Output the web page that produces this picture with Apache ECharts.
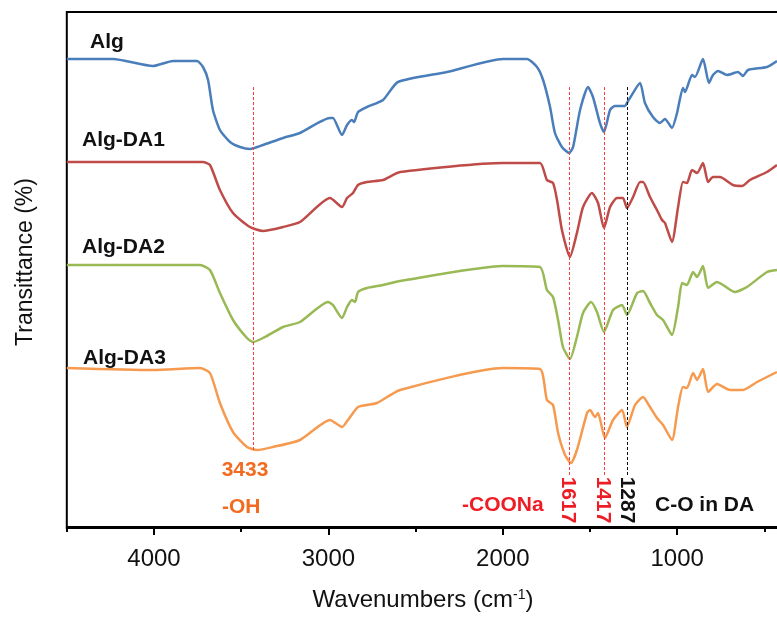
<!DOCTYPE html>
<html><head><meta charset="utf-8">
<script src="https://cdn.jsdelivr.net/npm/echarts@6/dist/echarts.min.js"></script>
<style>html,body{margin:0;padding:0;background:#fff}#c{width:777px;height:619px}</style>
</head><body><div id="c"></div>
<script>
// Wavenumbers (cm-1) and relative transmittance (offset, arbitrary units)
const algX = [4500,4235,4006,3891,3753,3719,3690,3662,3622,3564,3507,3450,3375,3260,3163,2991,2974,2922,2893,2865,2853,2830,2779,2687,2601,2320,1999,1861,1804,1769,1729,1701,1661,1620,1597,1557,1511,1483,1443,1420,1385,1357,1299,1288,1271,1213,1185,1139,1099,1070,1030,1001,967,955,915,898,852,818,795,766,714,651,623,594,485,428];
const algY = [468,468,461,466,466,460,447,417,397,385,380,378,382,389,394,409,409,392,402,407,405,415,420,427,445,455,468,468,460,447,420,394,380,374,380,417,440,430,404,395,417,421,421,424,429,444,424,410,404,408,399,414,439,435,452,450,468,444,452,456,452,455,451,457,460,466];

const da1X = [4500,3719,3679,3622,3547,3450,3375,3260,3163,2991,2922,2893,2859,2830,2779,2687,2589,1999,1787,1747,1712,1689,1661,1615,1575,1540,1489,1454,1420,1385,1345,1311,1288,1253,1213,1196,1156,1116,1087,1070,1030,995,967,944,915,886,852,823,795,755,680,628,583,485,428];
const da1Y = [365,365,362,337,314,300,296,300,305,329,320,329,334,342,345,347,355,364,364,347,344,327,297,270,294,320,334,324,299,320,329,329,319,330,345,345,330,317,307,304,285,320,345,344,357,354,364,345,350,350,342,341,347,355,362];

const da2X = [4500,3736,3679,3622,3547,3467,3432,3375,3260,3163,3002,2974,2922,2893,2865,2847,2830,2779,2687,2589,1999,1787,1747,1712,1683,1655,1615,1575,1540,1494,1460,1420,1368,1316,1288,1230,1196,1156,1116,1081,1030,995,972,944,909,886,852,823,772,737,669,600,485,428];
const da2Y = [262,262,257,234,207,189,185,189,200,205,225,222,209,220,227,225,235,239,242,246,261,260,237,230,207,180,168,190,214,225,215,195,217,222,212,234,236,224,212,207,192,220,244,242,255,250,261,239,245,242,235,240,255,257];

const da3X = [4500,4006,3736,3679,3622,3547,3467,3409,3318,3163,2991,2922,2888,2859,2830,2779,2721,2589,1999,1787,1747,1712,1683,1643,1609,1575,1517,1500,1471,1454,1414,1368,1316,1288,1242,1196,1156,1116,1081,1030,995,967,944,909,886,852,823,772,697,623,542,428];
const da3Y = [159,157,159,154,124,95,80,77,80,87,107,100,107,114,120,122,124,137,159,158,127,122,94,72,64,77,114,117,110,114,89,107,117,100,122,130,120,109,102,87,120,140,139,154,147,158,135,143,137,137,145,155];

const seriesNames = ['Alg','Alg-DA1','Alg-DA2','Alg-DA3'];
const majorTicks = [1000,2000,3000,4000];
const minorTicks = [500,1500,2500,3500,4500];
const peakLines = [3433,1617,1417,1287];

const zip = (xs, ys) => xs.map((x, i) => [x, ys[i]]);
const colors = ['#4a7ebb','#be4b48','#98b954','#f59a4e'];
const FONT = '"Liberation Sans", Arial, sans-serif';

const chart = echarts.init(document.getElementById('c'), null, {renderer:'canvas'});

const lineColors = ['#ff3b3b','#ff3b3b','#ff3b3b','#111'];
const markData = peakLines.map((wn, i) => [
  {coord:[wn, 440], lineStyle:{color: lineColors[i], type:[3,2], width:1}},
  {coord:[wn, i === 0 ? 77 : 50]}
]);

const xBase = {
  type:'value', min:0, max:4500, inverse:true, gridIndex:0, position:'bottom',
  splitLine:{show:false}
};

chart.setOption({
  animation:false,
  backgroundColor:'#fff',
  grid:{left:66.8, top:12, width:784.8, height:516, show:true, borderColor:'#000', borderWidth:2,
        containLabel:false, outerBoundsMode:'none'},
  xAxis:[
    Object.assign({}, xBase, {
      axisLine:{show:true, lineStyle:{color:'#000', width:2}},
      axisTick:{show:true, inside:false, length:8, lineStyle:{color:'#000', width:2}, customValues: majorTicks},
      axisLabel:{show:true, customValues: majorTicks, formatter: v => String(v), fontSize:24, fontFamily:FONT, color:'#111', margin:19}
    }),
    Object.assign({}, xBase, {
      axisLine:{show:false},
      axisTick:{show:true, inside:false, length:4, lineStyle:{color:'#000', width:2}, customValues: minorTicks},
      axisLabel:{show:false}
    })
  ],
  yAxis:{
    type:'value', min:-1, max:515,
    axisLine:{show:false}, axisTick:{show:false}, axisLabel:{show:false}, splitLine:{show:false},
    name:'Transittance (%)', nameLocation:'middle', nameGap:30, nameRotate:90,
    nameTextStyle:{fontSize:23, fontFamily:FONT, color:'#111', padding:[0,0,0,16]}
  },
  series:[
    {name:seriesNames[0], type:'line', data:zip(algX, algY), showSymbol:false, smooth:0.2, lineStyle:{color:colors[0], width:2.5}, itemStyle:{color:colors[0]}},
    {name:seriesNames[1], type:'line', data:zip(da1X, da1Y), showSymbol:false, smooth:0.2, lineStyle:{color:colors[1], width:2.5}, itemStyle:{color:colors[1]}},
    {name:seriesNames[2], type:'line', data:zip(da2X, da2Y), showSymbol:false, smooth:0.2, lineStyle:{color:colors[2], width:2.5}, itemStyle:{color:colors[2]}},
    {name:seriesNames[3], type:'line', data:zip(da3X, da3Y), showSymbol:false, smooth:0.2, lineStyle:{color:colors[3], width:2.5}, itemStyle:{color:colors[3]},
      markLine:{silent:true, symbol:['none','none'], label:{show:false}, data:markData}}
  ],
  graphic:[
    {type:'text', x:90, y:42, style:{text:seriesNames[0], font:'bold 21px '+FONT, fill:'#111', textAlign:'left', textVerticalAlign:'middle'}},
    {type:'text', x:82, y:140, style:{text:seriesNames[1], font:'bold 21px '+FONT, fill:'#111', textAlign:'left', textVerticalAlign:'middle'}},
    {type:'text', x:82, y:247, style:{text:seriesNames[2], font:'bold 21px '+FONT, fill:'#111', textAlign:'left', textVerticalAlign:'middle'}},
    {type:'text', x:83, y:358, style:{text:seriesNames[3], font:'bold 21px '+FONT, fill:'#111', textAlign:'left', textVerticalAlign:'middle'}},
    {type:'text', x:245, y:470, style:{text:String(peakLines[0]), font:'bold 21px '+FONT, fill:'#f26b21', textAlign:'center', textVerticalAlign:'middle'}},
    {type:'text', x:222, y:507, style:{text:'-OH', font:'bold 21px '+FONT, fill:'#f26b21', textAlign:'left', textVerticalAlign:'middle'}},
    {type:'text', x:462, y:505, style:{text:'-COONa', font:'bold 21px '+FONT, fill:'#ee1c25', textAlign:'left', textVerticalAlign:'middle'}},
    {type:'text', x:568, y:500, rotation:-Math.PI/2, style:{text:String(peakLines[1]), font:'bold 21px '+FONT, fill:'#ee1c25', textAlign:'center', textVerticalAlign:'middle'}},
    {type:'text', x:603, y:500, rotation:-Math.PI/2, style:{text:String(peakLines[2]), font:'bold 21px '+FONT, fill:'#ee1c25', textAlign:'center', textVerticalAlign:'middle'}},
    {type:'text', x:627, y:500, rotation:-Math.PI/2, style:{text:String(peakLines[3]), font:'bold 21px '+FONT, fill:'#111', textAlign:'center', textVerticalAlign:'middle'}},
    {type:'text', x:655, y:505, style:{text:'C-O in DA', font:'bold 21px '+FONT, fill:'#111', textAlign:'left', textVerticalAlign:'middle'}},
    {type:'text', x:423, y:600, style:{text:'Wavenumbers (cm{s|-1})', font:'24px '+FONT, fill:'#111', textAlign:'center', textVerticalAlign:'middle',
      rich:{s:{fontSize:14, fontFamily:FONT, verticalAlign:'top', fill:'#111'}}}}
  ]
});
</script></body></html>
